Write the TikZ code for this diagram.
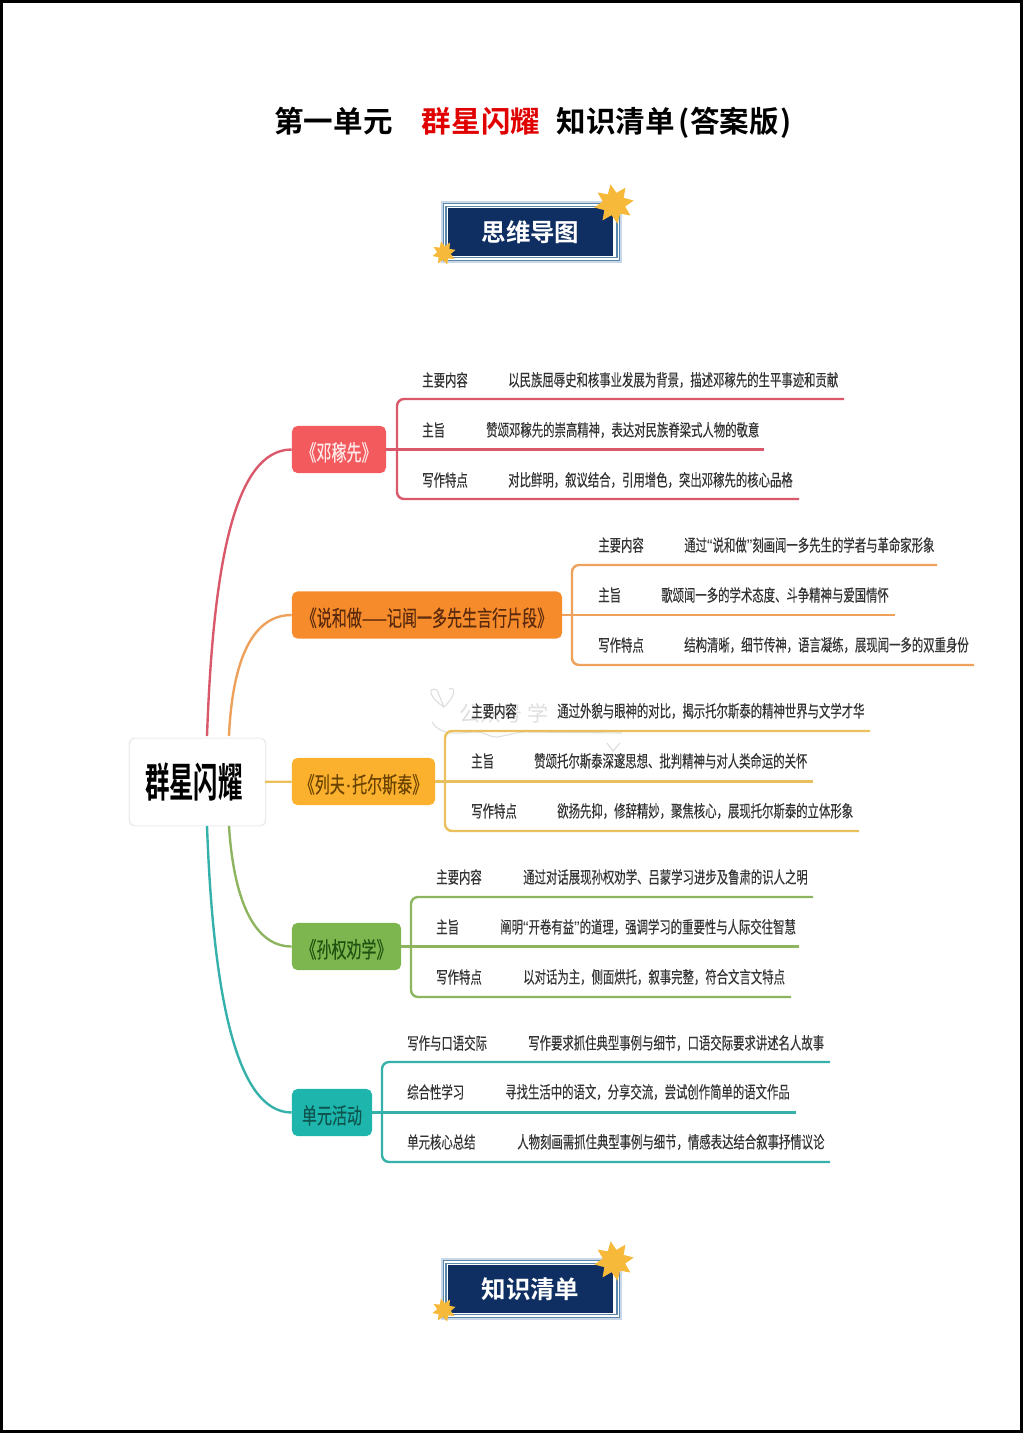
\documentclass[tikz,border=0pt]{standalone}
\usepackage{fontspec}
\usepackage{xcolor}
\setmainfont{Noto Sans CJK SC}
\newfontfamily\titlefont[BoldFont={Noto Sans CJK SC Bold}]{Noto Sans CJK SC}
\newfontfamily\mapfont[FakeStretch=0.68,FakeBold=0.25]{Noto Sans CJK SC}
\newfontfamily\mapbold[FakeStretch=0.6]{Noto Sans CJK SC Bold}
\newfontfamily\quotefont{Liberation Sans}
\usetikzlibrary{shapes.geometric,shadows}
\definecolor{dengc}{HTML}{F25A5E}
\definecolor{wenc}{HTML}{F68B2C}
\definecolor{tolc}{HTML}{FBB12E}
\definecolor{sunc}{HTML}{7DB64F}
\definecolor{unitc}{HTML}{1DB5AC}
\definecolor{dengw}{HTML}{D9596B}
\definecolor{wenw}{HTML}{EDA15A}
\definecolor{tolw}{HTML}{EBC05C}
\definecolor{sunw}{HTML}{8DB560}
\definecolor{unitw}{HTML}{35B0AA}
\definecolor{went}{HTML}{5C2A0C}
\definecolor{tolt}{HTML}{6B4300}
\definecolor{sunt}{HTML}{1E5210}
\definecolor{unitt}{HTML}{0E5550}
\definecolor{navyc}{HTML}{0F2F63}
\definecolor{steelc}{HTML}{5B86AB}
\definecolor{palec}{HTML}{C8D8E8}
\definecolor{starc}{HTML}{F7B93A}
\newcommand{\qm}[1]{{\quotefont #1}}
\newcommand{\bt}[1]{\raisebox{-8pt}[0pt][0pt]{#1}}
\tikzset{
  title/.style={font=\titlefont\bfseries\fontsize{21pt}{24pt}\selectfont,inner sep=0pt},
  root/.style={fill=white,rounded corners=4pt,minimum width=3.37cm,minimum height=2.17cm,drop shadow={opacity=.15,shadow xshift=0pt,shadow yshift=0pt,shadow scale=1.02},font=\mapbold\fontsize{29pt}{32pt}\selectfont},
  branch/.style={rounded corners=4pt,minimum height=1.18cm,inner sep=0pt,font=\mapfont\fontsize{15.7pt}{17pt}\selectfont},
  lab/.style={anchor=west,inner sep=0pt,text=black!80,font=\mapfont\fontsize{11.9pt}{13pt}\selectfont},
  wire/.style={line width=1.7pt},
  ring/.style={minimum width=#1,inner sep=0pt},
  plate/.style={inner sep=0pt,text=white,font=\titlefont\bfseries\fontsize{17.4pt}{20pt}\selectfont},
  starb/.style={star,star points=8,star point ratio=1.75,fill=starc,draw=none,inner sep=0pt,minimum size=#1},
  markline/.style={black!13,line width=0.8pt},
}
\begin{document}
\begin{tikzpicture}[x=0.025cm,y=-0.025cm]
\useasboundingbox (0,0) rectangle (1024,1434);
\node[draw=black,line width=2.2pt,minimum width=25.48cm,minimum height=35.75cm,inner sep=0pt] (frame) at (511.5,716.5) {};
% title
\node[title] (t1) at (333.5,121) {第一单元};
\node[title,text=red!88!black] (t2) at (481,121) {群星闪耀};
\node[title] (t3) at (674,122.5) {知识清单\kern3pt(答案版\kern1pt)};
% top badge
\node[ring=4.53cm,fill=palec,minimum height=1.55cm] (a1) at (531.5,232) {};
\node[ring=4.42cm,fill=steelc,minimum height=1.44cm] (a2) at (a1) {};
\node[ring=4.36cm,fill=white,minimum height=1.38cm] (a3) at (a1) {};
\node[ring=4.3cm,fill=steelc,minimum height=1.32cm] (a4) at (a1) {};
\node[ring=4.24cm,fill=white,minimum height=1.26cm] (a5) at (a1) {};
\node[ring=4.13cm,fill=navyc,minimum height=1.18cm,plate] (a6) at (530.5,232) {思维导图};
\node[starb=1cm,rotate=10] (a7) at (614,204) {};
\node[starb=0.6cm,rotate=15] (a8) at (444,253) {};
% bottom badge
\node[ring=4.53cm,fill=palec,minimum height=1.55cm] (b1) at (531.5,1289) {};
\node[ring=4.42cm,fill=steelc,minimum height=1.44cm] (b2) at (b1) {};
\node[ring=4.36cm,fill=white,minimum height=1.38cm] (b3) at (b1) {};
\node[ring=4.3cm,fill=steelc,minimum height=1.32cm] (b4) at (b1) {};
\node[ring=4.24cm,fill=white,minimum height=1.26cm] (b5) at (b1) {};
\node[ring=4.13cm,fill=navyc,minimum height=1.18cm,plate] (b6) at (530.5,1289) {知识清单};
\node[starb=1cm,rotate=10] (b7) at (614,1261) {};
\node[starb=0.6cm,rotate=15] (b8) at (444,1310) {};
% centre and branches
\node[root] (root) at (197.5,782) {群星闪耀\kern5pt};
\node[branch,fill=dengc,text=red!8,minimum width=2.35cm] (deng) at (339,449.5) {\bt{《邓稼先》}};
\node[branch,fill=wenc,text=went,minimum width=6.75cm] (wen) at (427,615) {\bt{《说和做——记闻一多先生言行片段》}};
\node[branch,fill=tolc,text=tolt,minimum width=3.58cm] (tol) at (363.5,781.5) {\bt{《列夫\qm{·}托尔斯泰》}};
\node[branch,fill=sunc,text=sunt,minimum width=2.73cm] (sun) at (346.5,946.5) {\bt{《孙权劝学》}};
\node[branch,fill=unitc,text=unitt,minimum width=2cm] (unit) at (332,1112.5) {\bt{单元活动}};
\coordinate (rootA) at (207,736);
\coordinate (rootB) at (229,736);
\coordinate (rootC) at (229,826);
\coordinate (rootD) at (207,826);
\draw[wire,dengw] (rootA) .. controls (213,570) and (233,449.5) .. (deng);
\draw[wire,wenw] (rootB) .. controls (232,668) and (249,615) .. (wen);
\draw[wire,tolw] (root) -- (tol);
\draw[wire,sunw] (rootC) .. controls (233,890) and (250,946.5) .. (sun);
\draw[wire,unitw] (rootD) .. controls (213,990) and (235,1112.5) .. (unit);
% deng
\coordinate (d1) at (844,399);
\coordinate (d2) at (764,449.5);
\coordinate (d3) at (799,499);
\coordinate (dc) at (397,499);
\draw[wire,dengw,rounded corners=5pt] (d1) -| (dc) -- (d3);
\draw[wire,dengw] (deng) -- (d2);
\node[lab] (dl1) at (422,380) {主要内容};
\node[lab] (dt1) at (508,380) {以民族屈辱史和核事业发展为背景，描述邓稼先的生平事迹和贡献};
\node[lab] (dl2) at (422,430) {主旨};
\node[lab] (dt2) at (486,430) {赞颂邓稼先的崇高精神，表达对民族脊梁式人物的敬意};
\node[lab] (dl3) at (422,480) {写作特点};
\node[lab] (dt3) at (508,480) {对比鲜明，叙议结合，引用增色，突出邓稼先的核心品格};
% wen
\coordinate (w1) at (937,565);
\coordinate (w2) at (895,615);
\coordinate (w3) at (974,665);
\coordinate (wc) at (572,665);
\draw[wire,wenw,rounded corners=5pt] (w1) -| (wc) -- (w3);
\draw[wire,wenw] (wen) -- (w2);
\node[lab] (wl1) at (598,545) {主要内容};
\node[lab] (wt1) at (684,545) {通过\qm{“}说和做\qm{”}刻画闻一多先生的学者与革命家形象};
\node[lab] (wl2) at (598,595) {主旨};
\node[lab] (wt2) at (661,595) {歌颂闻一多的学术态度、斗争精神与爱国情怀};
\node[lab] (wl3) at (598,645) {写作特点};
\node[lab] (wt3) at (684,645) {结构清晰，细节传神，语言凝练，展现闻一多的双重身份};
% tolstoy
\node[anchor=west,inner sep=0pt,text=black!13,font=\titlefont\fontsize{15pt}{17pt}\selectfont] (mark) at (459,713) {公众号 学};
\draw[markline] (432,722) .. controls (440,735) and (455,734) .. (473,732) .. controls (485,731) and (490,738) .. (497,737) .. controls (510,735) and (520,731) .. (530,732) -- (622,733);
\draw[markline] (444,707) .. controls (428,697) and (428,686) .. (437,690) -- (444,707) .. controls (456,696) and (456,686) .. (449,689);
\draw[markline] (607,743) -- (613,751) -- (620,743);
\coordinate (l1) at (870,731);
\coordinate (l2) at (813,781.5);
\coordinate (l3) at (859,831);
\coordinate (lc) at (445,831);
\draw[wire,tolw,rounded corners=5pt] (l1) -| (lc) -- (l3);
\draw[wire,tolw] (tol) -- (l2);
\node[lab] (ll1) at (471,711) {主要内容};
\node[lab] (lt1) at (557,711) {通过外貌与眼神的对比，揭示托尔斯泰的精神世界与文学才华};
\node[lab] (ll2) at (471,761) {主旨};
\node[lab] (lt2) at (534,761) {赞颂托尔斯泰深邃思想、批判精神与对人类命运的关怀};
\node[lab] (ll3) at (471,811) {写作特点};
\node[lab] (lt3) at (557,811) {欲扬先抑，修辞精妙，聚焦核心，展现托尔斯泰的立体形象};
% sun quan
\coordinate (s1) at (813,897);
\coordinate (s2) at (799,946.5);
\coordinate (s3) at (791,997);
\coordinate (sc) at (411,997);
\draw[wire,sunw,rounded corners=5pt] (s1) -| (sc) -- (s3);
\draw[wire,sunw] (sun) -- (s2);
\node[lab] (sl1) at (436,877) {主要内容};
\node[lab] (st1) at (523,877) {通过对话展现孙权劝学、吕蒙学习进步及鲁肃的识人之明};
\node[lab] (sl2) at (436,927) {主旨};
\node[lab] (st2) at (500,927) {阐明\qm{“}开卷有益\qm{”}的道理，强调学习的重要性与人际交往智慧};
\node[lab] (sl3) at (436,977) {写作特点};
\node[lab] (st3) at (523,977) {以对话为主，侧面烘托，叙事完整，符合文言文特点};
% unit
\coordinate (u1) at (830,1062);
\coordinate (u2) at (796,1112.5);
\coordinate (u3) at (830,1162);
\coordinate (uc) at (382,1162);
\draw[wire,unitw,rounded corners=5pt] (u1) -| (uc) -- (u3);
\draw[wire,unitw] (unit) -- (u2);
\node[lab] (ul1) at (407,1043) {写作与口语交际};
\node[lab] (ut1) at (528,1043) {写作要求抓住典型事例与细节，口语交际要求讲述名人故事};
\node[lab] (ul2) at (407,1092) {综合性学习};
\node[lab] (ut2) at (505,1092) {寻找生活中的语文，分享交流，尝试创作简单的语文作品};
\node[lab] (ul3) at (407,1142) {单元核心总结};
\node[lab] (ut3) at (517,1142) {人物刻画需抓住典型事例与细节，情感表达结合叙事抒情议论};
\end{tikzpicture}
\end{document}
